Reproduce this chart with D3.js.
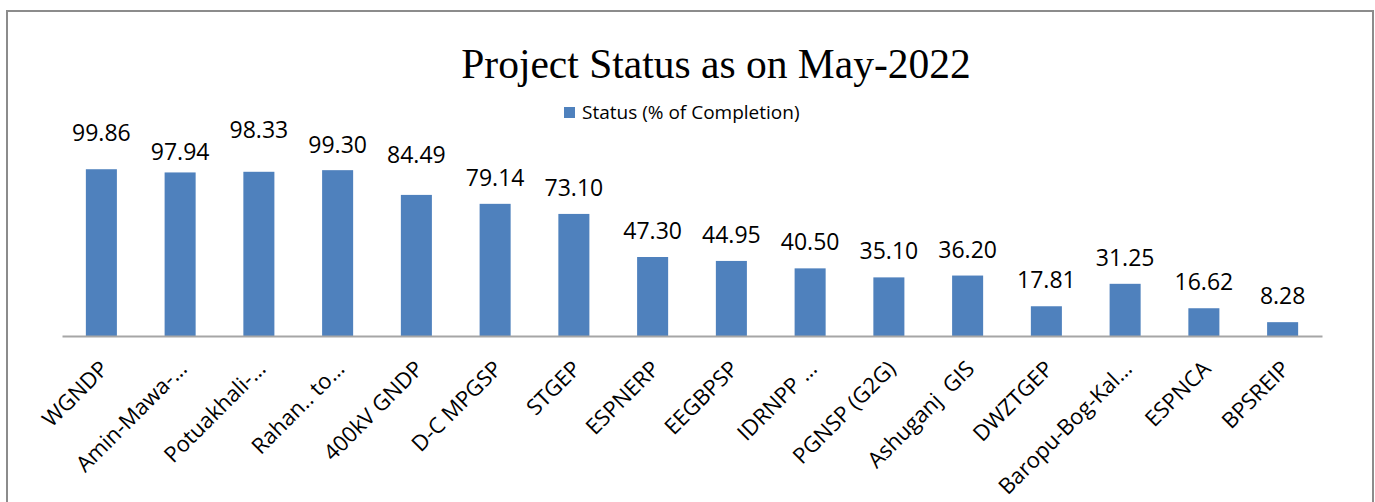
<!DOCTYPE html>
<html lang="en">

<head>
  <meta charset="UTF-8">
  <title>Project Status</title>
  <script src="https://d3js.org/d3.v7.min.js"></script>
  <style>
    body { margin: 0; background: #fff; }
    svg { display: block; }
  </style>
</head>

<body>
  <svg id="chart" width="1375" height="502"></svg>

  <script>
    // project short names (as they appear on the axis, truncated like the original)
    const projects = ["WGNDP", "Amin-Mawa-\u2026", "Potuakhali-\u2026", "Rahan.. to\u2026", "400kV GNDP",
      "D-C MPGSP", "STGEP", "ESPNERP", "EEGBPSP", "IDRNPP \u2026", "PGNSP (G2G)", "Ashuganj  GIS",
      "DWZTGEP", "Baropu-Bog-Kal\u2026", "ESPNCA", "BPSREIP"];
    // status (% of completion)
    const completion = [99.86, 97.94, 98.33, 99.30, 84.49, 79.14, 73.10, 47.30, 44.95, 40.50,
      35.10, 36.20, 17.81, 31.25, 16.62, 8.28];

    // labels were hand-nudged in the source chart, extra lift in px
    const labelNudge = [10, -6, 16, -1, 14, 0, 0, 0, 0, 0, 0, 0, 0, 0, 0, 0];

    const svg = d3.select("#chart");
    const plotLeft = 62, plotRight = 1322, plotBase = 336, plotTop = 169;

    // outer frame
    svg.append("rect")
      .attr("x", 7).attr("y", 11)
      .attr("width", 1366).attr("height", 500)
      .attr("fill", "none")
      .attr("stroke", "#8c8c8c")
      .attr("stroke-width", 2);

    svg.append("text")
      .attr("x", 716).attr("y", 78)
      .attr("text-anchor", "middle")
      .style("font-family", "'Liberation Serif', 'Times New Roman', serif")
      .style("font-size", "41.5px")
      .style("white-space", "pre")
      .attr("fill", "#000")
      .text("Project Status as on May-2022");

    // legend
    const legend = svg.append("g").attr("transform", "translate(564,107)");
    legend.append("rect").attr("width", 11).attr("height", 11).attr("fill", "#4F81BD");
    legend.append("text")
      .attr("x", 18).attr("y", 11.5)
      .style("font-family", "'Open Sans', sans-serif")
      .style("font-size", "19px")
      .attr("fill", "#000")
      .text("Status (% of Completion)");

    const x = d3.scaleBand()
      .domain(projects)
      .range([plotLeft, plotRight])
      .paddingInner(0.606)
      .paddingOuter(0.303);

    const y = d3.scaleLinear().domain([0, 100]).range([plotBase, plotTop]);

    const rows = projects.map((p, i) => ({ name: p, value: completion[i], nudge: labelNudge[i] }));

    svg.append("g").selectAll("rect").data(rows)
      .join("rect")
      .attr("x", d => x(d.name))
      .attr("y", d => y(d.value))
      .attr("width", x.bandwidth())
      .attr("height", d => plotBase - y(d.value))
      .attr("fill", "#4F81BD");

    // value labels
    svg.append("g").selectAll("text").data(rows)
      .join("text")
      .attr("x", d => x(d.name) + x.bandwidth() / 2)
      .attr("y", d => y(d.value) - 18 - d.nudge)
      .attr("text-anchor", "middle")
      .style("font-family", "'Open Sans', sans-serif")
      .style("font-size", "23px")
      .attr("fill", "#000")
      .text(d => d.value.toFixed(2));

    // x axis
    const xAxis = svg.append("g")
      .attr("transform", `translate(0,${plotBase})`)
      .call(d3.axisBottom(x).tickSize(0).tickSizeOuter(0));

    xAxis.select(".domain").attr("stroke", "#a6a6a6").attr("stroke-width", 2);
    xAxis.selectAll(".tick text")
      .style("font-family", "'Open Sans', sans-serif")
      .style("font-size", "22px")
      .attr("fill", "#000")
      .attr("text-anchor", "end")
      .attr("dy", "0.72em")
      .attr("y", 0)
      .attr("transform", "translate(-3,23) rotate(-45)")
      .style("white-space", "pre");
  </script>

</body>

</html>
